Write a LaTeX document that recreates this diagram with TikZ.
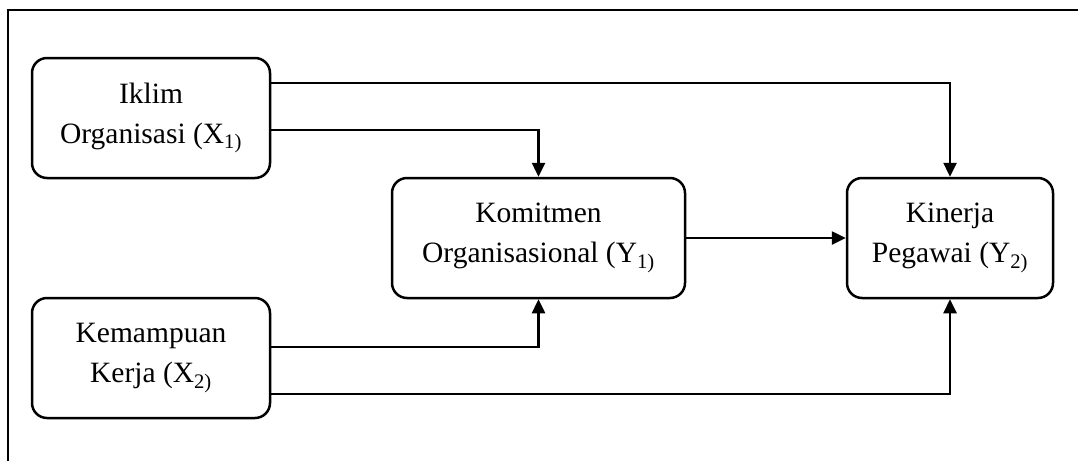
\documentclass[tikz,border=0pt]{standalone}
\usepackage{fontspec}
\setmainfont{Liberation Serif}
\usetikzlibrary{arrows.meta,calc}

\tikzstyle{box}=[draw,line width=2.5pt,rounded corners=15pt,minimum height=120pt,align=center,font=\fontsize{29.5}{40}\selectfont]
\tikzstyle{edge}=[draw,line width=2.5pt,-{Triangle[length=14pt,width=13pt]}]

\begin{document}
\begin{tikzpicture}[x=1pt,y=-1pt]
    \useasboundingbox (0,0) rectangle (1078,461);
    % outer frame, only top and left show
    \draw[line width=2.5pt] (8,461) -- (8,10) -- (1078,10);
    % First the variables
    \node[box,minimum width=238pt] (x1) at (151,118) {Iklim\\Organisasi (X\textsubscript{1)}};
    \node[box,minimum width=238pt] (x2) at (151,358) {Kemampuan\\Kerja (X\textsubscript{2)}};
    \node[box,minimum width=293pt] (y1) at (538.5,238) {Komitmen\\Organisasional (Y\textsubscript{1)}};
    \node[box,minimum width=206pt] (y2) at (950,238) {Kinerja\\Pegawai (Y\textsubscript{2)}};
    % Then the paths between them
    \foreach \source/\dy/\dest in {x1/-35/y2, x1/12/y1, x2/-11/y1, x2/36/y2}
        \path[edge] ($(\source.east)+(0,\dy)$) -| (\dest);
    \path[edge] (y1) -- (y2);
\end{tikzpicture}
\end{document}
